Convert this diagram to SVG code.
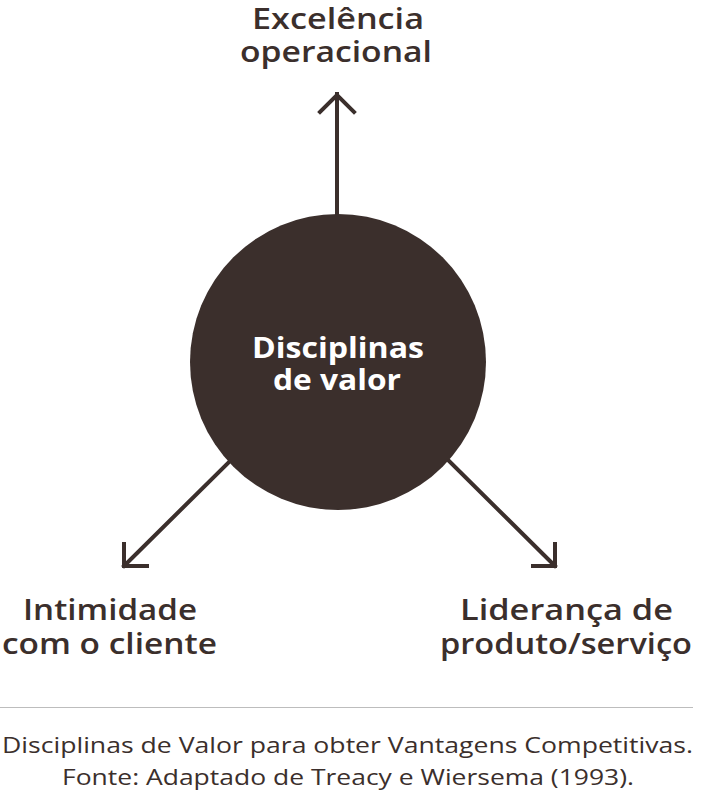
<svg xmlns="http://www.w3.org/2000/svg" width="701" height="794" viewBox="0 0 701 794">
<style>
.lbl{font-family:"Open Sans",Lato,sans-serif;font-weight:600;font-size:29px;fill:#3b2f2c;text-anchor:middle}
.ctr{font-family:"Open Sans",Lato,sans-serif;font-weight:700;font-size:28px;fill:#ffffff;text-anchor:middle}
.cap{font-family:"Open Sans",Lato,sans-serif;font-weight:400;font-size:22px;fill:#3b2f2c;text-anchor:middle}
.arr{stroke:#3b2f2c;stroke-width:4;fill:none;stroke-linecap:square;stroke-linejoin:miter}
</style>
<rect width="701" height="794" fill="#ffffff"/>
<g id="connectors">
<path class="arr" d="M337 214 V94 M320 112 L337 95 L354 112"/>
<path class="arr" d="M229 462 L124 566 M124 544 V566 H147"/>
<path class="arr" d="M448 460 L555 566 M555 544 V566 H533"/>
</g>
<g id="center">
<circle cx="338" cy="362" r="148" fill="#3b2f2c"/>
<text class="ctr" x="338" y="358" textLength="172" lengthAdjust="spacingAndGlyphs">Disciplinas</text>
<text class="ctr" x="337" y="390" textLength="128" lengthAdjust="spacingAndGlyphs">de valor</text>
</g>
<g id="top">
<text class="lbl" x="338" y="29" textLength="172" lengthAdjust="spacingAndGlyphs">Excelência</text>
<text class="lbl" x="336" y="62" textLength="192" lengthAdjust="spacingAndGlyphs">operacional</text>
</g>
<g id="left">
<text class="lbl" x="110" y="620" textLength="174" lengthAdjust="spacingAndGlyphs">Intimidade</text>
<text class="lbl" x="109.5" y="654" textLength="215" lengthAdjust="spacingAndGlyphs">com o cliente</text>
</g>
<g id="right">
<text class="lbl" x="566.5" y="620" textLength="213" lengthAdjust="spacingAndGlyphs">Liderança de</text>
<text class="lbl" x="566" y="654" textLength="252" lengthAdjust="spacingAndGlyphs">produto/serviço</text>
</g>
<g id="caption">
<line x1="0" y1="707.5" x2="693" y2="707.5" stroke="#bdbdbd" stroke-width="1.2"/>
<text class="cap" x="347.5" y="753" textLength="691" lengthAdjust="spacingAndGlyphs">Disciplinas de Valor para obter Vantagens Competitivas.</text>
<text class="cap" x="348" y="785" textLength="572" lengthAdjust="spacingAndGlyphs">Fonte: Adaptado de Treacy e Wiersema (1993).</text>
</g>
</svg>
